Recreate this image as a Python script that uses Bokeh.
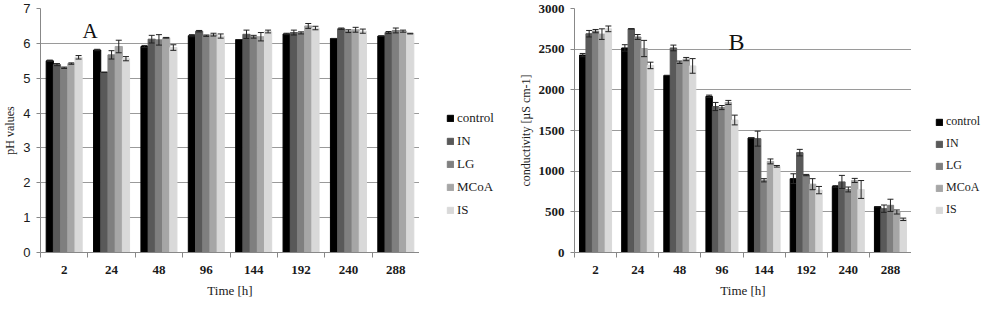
from bokeh.plotting import figure
from bokeh.models import (Range1d, FixedTicker, Legend, LegendItem, Label, ColumnDataSource)
from bokeh.layouts import row
from bokeh.embed import file_html
from bokeh.resources import INLINE

times = ["2", "24", "48", "96", "144", "192", "240", "288"]
series = ["control", "IN", "LG", "MCoA", "IS"]
colors = ["#000000", "#595959", "#7f7f7f", "#a6a6a6", "#d9d9d9"]

ph_control = [5.50, 5.81, 5.91, 6.22, 6.11, 6.27, 6.14, 6.21]
ph_IN = [5.39, 5.17, 6.12, 6.35, 6.26, 6.31, 6.42, 6.31]
ph_LG = [5.30, 5.67, 6.10, 6.22, 6.19, 6.30, 6.35, 6.37]
ph_MCoA = [5.42, 5.91, 6.16, 6.25, 6.19, 6.50, 6.39, 6.35]
ph_IS = [5.60, 5.56, 5.88, 6.21, 6.34, 6.44, 6.35, 6.28]

ph_err_control = [0.02, 0.02, 0.03, 0.03, 0.0, 0.02, 0.0, 0.0]
ph_err_IN = [0.03, 0.0, 0.11, 0.02, 0.12, 0.07, 0.02, 0.03]
ph_err_LG = [0.02, 0.12, 0.15, 0.02, 0.04, 0.03, 0.04, 0.07]
ph_err_MCoA = [0.02, 0.18, 0.01, 0.04, 0.12, 0.07, 0.07, 0.03]
ph_err_IS = [0.05, 0.06, 0.08, 0.06, 0.04, 0.05, 0.06, 0.01]

cond_control = [2427, 2515, 2177, 1920, 1408, 908, 812, 563]
cond_IN = [2690, 2750, 2515, 1795, 1400, 1228, 868, 539]
cond_LG = [2722, 2650, 2339, 1782, 888, 952, 775, 580]
cond_MCoA = [2685, 2508, 2378, 1845, 1120, 840, 886, 498]
cond_IS = [2750, 2300, 2294, 1629, 1060, 767, 775, 408]

cond_err_control = [20, 40, 0, 15, 0, 60, 10, 0]
cond_err_IN = [40, 0, 35, 50, 92, 40, 80, 45]
cond_err_LG = [20, 30, 15, 25, 20, 8, 30, 75]
cond_err_MCoA = [65, 100, 20, 25, 30, 68, 25, 25]
cond_err_IS = [35, 40, 90, 60, 10, 45, 110, 15]

SERIF = "Liberation Serif"
TXT = "#1a1a1a"


def make_chart(vals, errs, ymax, ystep, ylabel, letter, letter_pos, letter_size,
               width, height, bl, bt, bb, ytick_font, ytick_style):
    n = len(times)
    p = figure(width=width, height=height, output_backend="svg",
               toolbar_location=None, x_range=Range1d(0, n), y_range=Range1d(0, ymax),
               min_border_left=bl, min_border_right=0, min_border_top=bt,
               min_border_bottom=bb)
    p.outline_line_color = None
    p.xgrid.grid_line_color = None
    p.ygrid.grid_line_color = "#9a9a9a"
    p.ygrid.grid_line_width = 1

    bw = 0.152
    for k, (name, col) in enumerate(zip(series, colors)):
        off = (k - 2) * bw
        xs = [i + 0.5 + off for i in range(n)]
        v = vals[k]
        e = errs[k]
        src = ColumnDataSource(dict(x=xs, top=v, lo=[a - b for a, b in zip(v, e)],
                                    hi=[a + b for a, b in zip(v, e)]))
        p.vbar(x="x", top="top", width=bw, bottom=0, source=src,
               fill_color=col, line_color=col)
        p.segment(x0="x", y0="lo", x1="x", y1="hi", source=src,
                  line_color="#222222", line_width=1)
        p.scatter(x="x", y="hi", source=src, marker="dash", size=6,
                  line_color="#222222", line_width=1)
        p.scatter(x="x", y="lo", source=src, marker="dash", size=6,
                  line_color="#222222", line_width=1)

    xa = p.xaxis[0]
    xa.ticker = FixedTicker(ticks=[i + 0.5 for i in range(n)],
                            minor_ticks=list(range(n + 1)))
    xa.major_label_overrides = {i + 0.5: t for i, t in enumerate(times)}
    xa.major_tick_line_color = None
    xa.minor_tick_line_color = "#888888"
    xa.minor_tick_out = 5
    xa.minor_tick_in = 0
    xa.axis_line_color = "#888888"
    xa.major_label_text_font = SERIF
    xa.major_label_text_font_style = "bold"
    xa.major_label_text_font_size = "13px"
    xa.major_label_text_color = TXT
    xa.major_label_standoff = 7
    xa.axis_label = "Time [h]"
    xa.axis_label_text_font = SERIF
    xa.axis_label_text_font_style = "normal"
    xa.axis_label_text_font_size = "13px"
    xa.axis_label_text_color = TXT
    xa.axis_label_standoff = 6

    ya = p.yaxis[0]
    ya.ticker = FixedTicker(ticks=list(range(0, ymax + 1, ystep)))
    ya.minor_tick_line_color = None
    ya.major_tick_line_color = "#888888"
    ya.major_tick_out = 4
    ya.major_tick_in = 0
    ya.axis_line_color = "#888888"
    ya.major_label_text_font = ytick_font
    ya.major_label_text_font_style = ytick_style
    ya.major_label_text_font_size = "13px"
    ya.major_label_text_color = TXT
    ya.major_label_standoff = 6
    ya.axis_label = ylabel
    ya.axis_label_text_font = SERIF
    ya.axis_label_text_font_style = "normal"
    ya.axis_label_text_font_size = "12px"
    ya.axis_label_text_color = TXT
    ya.axis_label_standoff = 3

    lab = Label(x=letter_pos[0], y=letter_pos[1], x_units="screen", y_units="screen",
                text=letter, text_font=SERIF, text_font_size=letter_size,
                text_color="#111111", text_baseline="alphabetic")
    p.add_layout(lab)
    return p


def make_legend(width, height, loc, fsize):
    q = figure(width=width, height=height, output_backend="svg", toolbar_location=None,
               x_range=Range1d(0, 1), y_range=Range1d(0, 1),
               x_axis_location=None, y_axis_location=None,
               min_border_left=0, min_border_right=0, min_border_top=0,
               min_border_bottom=0)
    q.grid.visible = False
    q.outline_line_color = None
    items = []
    for name, col in zip(series, colors):
        src = ColumnDataSource(dict(x=[5], top=[5]))
        r = q.vbar(x="x", top="top", bottom=4, width=0.1, source=src,
                   fill_color=col, line_color=col)
        items.append(LegendItem(label=name, renderers=[r]))
    leg = Legend(items=items, location=loc, orientation="vertical")
    leg.glyph_width = 8
    leg.glyph_height = 8
    leg.label_height = 14
    leg.spacing = 7
    leg.padding = 0
    leg.margin = 0
    leg.label_standoff = 3
    leg.label_text_font = SERIF
    leg.label_text_font_size = fsize
    leg.label_text_color = TXT
    leg.border_line_color = None
    leg.background_fill_alpha = 0
    q.add_layout(leg)
    return q


p1 = make_chart([ph_control, ph_IN, ph_LG, ph_MCoA, ph_IS],
                [ph_err_control, ph_err_IN, ph_err_LG, ph_err_MCoA, ph_err_IS],
                7, 1, "pH values", "A", (42, 222), "21px",
                419, 306, 30, 8, 50, "Liberation Sans", "normal")
l1 = make_legend(75, 306, (27, 34), "13px")
p2 = make_chart([cond_control, cond_IN, cond_LG, cond_MCoA, cond_IS],
                [cond_err_control, cond_err_IN, cond_err_LG, cond_err_MCoA, cond_err_IS],
                3000, 500, "conductivity [µS cm-1]", "B", (154, 211), "24px",
                417, 306, 80, 8, 54, SERIF, "bold")
l2 = make_legend(73, 306, (24, 35), "12px")

layout = row(p1, l1, p2, l2, spacing=0)
open("out.html", "w").write(file_html(layout, INLINE))
